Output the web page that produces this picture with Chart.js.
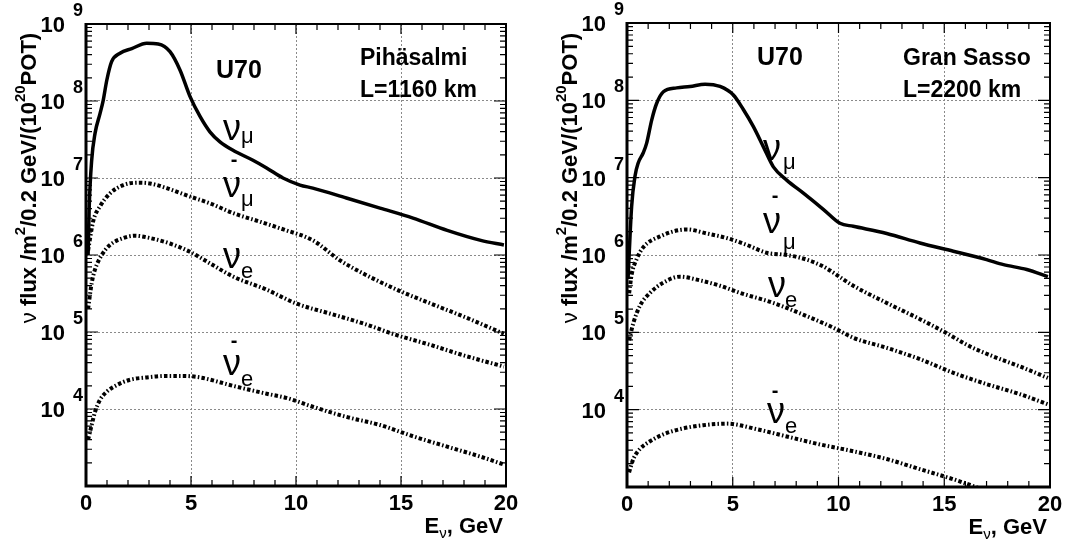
<!DOCTYPE html>
<html><head><meta charset="utf-8">
<script src="https://cdn.jsdelivr.net/npm/chart.js@4.4.1/dist/chart.umd.min.js"></script>
<style>
html,body{margin:0;padding:0;background:#fff;}
#wrap{position:relative;width:1068px;height:541px;overflow:hidden;}
canvas{position:absolute;top:0;}
</style></head><body>
<div id="wrap">
<canvas id="cL" width="534" height="541" style="left:0"></canvas>
<canvas id="cR" width="534" height="541" style="left:534px"></canvas>
</div>
<script>
// ---------- axis ticks ----------
const X_TICKS = [0, 5, 10, 15, 20];
const Y_EXPONENTS = [4, 5, 6, 7, 8, 9];

// ---------- Left panel: Pihäsalmi, L=1160 km ----------
const L_NUMU_E = [0.1,0.15,0.27,0.43,0.67,0.82,0.99,1.22,1.62,2.18,2.89,3.44,4.0,4.48,4.95,5.43,5.9,6.38,7.0,7.95,8.6,9.38,10.19,10.8,12.4,14.0,15.57,17.2,18.8,19.9];
const L_NUMU   = [1.0e6,4.0e6,1.7e7,3.8e7,6.9e7,1.02e8,1.86e8,3.24e8,4.17e8,4.79e8,5.62e8,5.5e8,4.37e8,2.51e8,1.15e8,6.3e7,3.98e7,2.95e7,2.29e7,1.7e7,1.35e7,1.0e7,8.1e6,7.4e6,5.5e6,4.07e6,3.02e6,2.09e6,1.55e6,1.35e6];

const L_ANUMU_E = [0.1,0.35,0.67,1.14,1.78,2.49,3.05,3.84,4.95,5.9,7.0,8.3,9.4,10.8,12.1,13.2,14.95,16.4,17.95,19.9];
const L_ANUMU   = [1.15e6,2.8e6,4.3e6,6.3e6,8.1e6,8.7e6,8.5e6,7.4e6,5.75e6,4.7e6,3.5e6,2.7e6,2.15e6,1.55e6,8.5e5,5.75e5,3.4e5,2.35e5,1.6e5,9.5e4];

const L_NUE_E = [0.1,0.27,0.43,0.75,1.14,1.78,2.33,3.05,4.0,4.95,5.9,7.0,8.6,10.0,11.6,13.2,14.8,16.4,17.95,19.9];
const L_NUE   = [2.0e5,4.3e5,6.5e5,1.0e6,1.35e6,1.66e6,1.78e6,1.66e6,1.41e6,1.1e6,7.8e5,5.25e5,3.55e5,2.35e5,1.74e5,1.29e5,9.1e4,6.8e4,5.0e4,3.55e4];

const L_ANUE_E = [0.1,0.27,0.43,0.67,0.99,1.46,2.1,2.89,3.84,4.63,5.43,7.0,8.6,9.6,10.8,12.4,14.0,15.6,17.2,18.8,19.9];
const L_ANUE   = [4.0e3,6.2e3,9.2e3,1.32e4,1.68e4,2.04e4,2.4e4,2.57e4,2.69e4,2.69e4,2.57e4,2.0e4,1.58e4,1.38e4,1.07e4,7.9e3,6.2e3,4.4e3,3.24e3,2.4e3,1.9e3];

// ---------- Right panel: Gran Sasso, L=2200 km ----------
const R_NUMU_E = [0.05,0.22,0.38,0.53,0.77,0.93,1.17,1.4,1.72,2.35,2.98,3.69,4.4,5.03,5.5,5.97,6.45,6.92,7.55,8.34,9.28,10.07,10.7,12.28,13.85,15.43,17.0,17.8,18.9,19.9];
const R_NUMU   = [5.0e5,4.3e6,1.05e7,1.55e7,2.1e7,2.8e7,5.6e7,9.1e7,1.29e8,1.45e8,1.51e8,1.62e8,1.51e8,1.17e8,7.6e7,4.6e7,2.5e7,1.38e7,9.3e6,6.3e6,3.9e6,2.57e6,2.35e6,1.9e6,1.43e6,1.12e6,8.7e5,7.5e5,6.5e5,5.25e5];

const R_ANUMU_E = [0.1,0.22,0.46,0.77,1.56,2.82,3.77,4.71,5.66,6.6,7.55,8.5,9.28,10.7,12.28,13.85,15.1,16.2,17.3,18.6,19.9];
const R_ANUMU   = [3.2e5,5.6e5,8.9e5,1.26e6,1.74e6,2.14e6,1.9e6,1.66e6,1.35e6,1.07e6,1.0e6,8.7e5,7.1e5,4.0e5,2.4e5,1.48e5,9.8e4,6.6e4,4.9e4,3.6e4,2.57e4];

const R_NUE_E = [0.1,0.3,0.61,1.09,1.72,2.5,3.3,4.4,5.34,6.92,8.5,9.75,10.7,12.28,13.85,15.43,17.0,18.6,19.9];
const R_NUE   = [7.9e4,1.32e5,2.2e5,3.24e5,4.4e5,5.25e5,4.8e5,4.0e5,3.24e5,2.4e5,1.62e5,1.15e5,8.5e4,6.3e4,4.5e4,3.0e4,2.14e4,1.58e4,1.17e4];

const R_ANUE_E = [0.1,0.3,0.61,1.09,1.72,2.5,3.6,4.71,6.13,7.7,9.13,10.7,12.28,13.85,15.43,16.4,18.0,20.0];
const R_ANUE   = [1.55e3,2.3e3,3.1e3,3.9e3,4.8e3,5.6e3,6.3e3,6.6e3,5.6e3,4.4e3,3.55e3,2.9e3,2.3e3,1.7e3,1.26e3,1.02e3,7.1e2,4.5e2];

const FONT = '"Liberation Sans", Arial, Helvetica, sans-serif';

function txt(ctx, s, x, y, font, align) {
  ctx.font = font; ctx.textAlign = align || 'left'; ctx.textBaseline = 'alphabetic';
  ctx.fillText(s, x, y);
}

const decoPlugin = {
  id: 'deco',
  afterDraw(chart) {
    const o = chart.options.plugins.deco; if (!o) return;
    const ctx = chart.ctx, a = chart.chartArea, xs = chart.scales.x, ys = chart.scales.y;
    ctx.save();
    ctx.strokeStyle = '#000'; ctx.fillStyle = '#000';
    // inner tick marks
    ctx.lineWidth = 1.2;
    ctx.beginPath();
    for (let e = 0; e <= 20; e++) {
      const px = xs.getPixelForValue(e), L = e % 5 === 0 ? 10 : 6;
      ctx.moveTo(px, a.bottom); ctx.lineTo(px, a.bottom - L);
      ctx.moveTo(px, a.top); ctx.lineTo(px, a.top + L);
    }
    for (let n = 3; n < 9; n++) for (let k = 1; k < 10; k++) {
      const py = ys.getPixelForValue(k * Math.pow(10, n)), L = k === 1 ? 12 : 6;
      ctx.moveTo(a.left, py); ctx.lineTo(a.left + L, py);
      ctx.moveTo(a.right, py); ctx.lineTo(a.right - L, py);
    }
    ctx.stroke();
    // frame
    ctx.lineWidth = 2;
    ctx.strokeRect(a.left, a.top, a.right - a.left, a.bottom - a.top);
    ctx.lineWidth = 3;
    ctx.beginPath(); ctx.moveTo(a.left, a.top - 1); ctx.lineTo(a.left, a.bottom); ctx.lineTo(a.right + 1, a.bottom); ctx.stroke();
    // x tick labels
    X_TICKS.forEach(t => txt(ctx, String(t), xs.getPixelForValue(t), a.bottom + 24, `bold 22px ${FONT}`, 'center'));
    // y tick labels 10^n
    Y_EXPONENTS.forEach(n => {
      const py = ys.getPixelForValue(Math.pow(10, n));
      txt(ctx, '10', a.left - 21, py + 8, `bold 22px ${FONT}`, 'right');
      txt(ctx, String(n), a.left - 13, py - 8, `bold 18px ${FONT}`, 'left');
    });
    // y title (rotated)
    ctx.save();
    ctx.translate(a.left - 50, o.titleY);
    ctx.rotate(-Math.PI / 2);
    const parts = [
      ['ν ', `22px ${FONT}`, 0], ['flux /m', `bold 22px ${FONT}`, 0], ['2', `bold 15px ${FONT}`, -11],
      ['/0.2 GeV/(10', `bold 22px ${FONT}`, 0], ['20', `bold 15px ${FONT}`, -11], ['POT)', `bold 22px ${FONT}`, 0]
    ];
    let tot = 0;
    parts.forEach(p => { ctx.font = p[1]; tot += ctx.measureText(p[0]).width; });
    let cx = -tot / 2;
    parts.forEach(p => { ctx.font = p[1]; ctx.textAlign = 'left'; ctx.fillText(p[0], cx, p[2]); cx += ctx.measureText(p[0]).width; });
    ctx.restore();
    // x title: E_nu, GeV (right aligned)
    {
      const f1 = `bold 22px ${FONT}`, f2 = `15px ${FONT}`;
      ctx.font = f1; const wE = ctx.measureText('E').width, wG = ctx.measureText(', GeV').width;
      ctx.font = f2; const wn = ctx.measureText('ν').width;
      let x0 = a.right - 3 - (wE + wn + wG), by = a.bottom + 47;
      txt(ctx, 'E', x0, by, f1); txt(ctx, 'ν', x0 + wE, by + 5, f2); txt(ctx, ', GeV', x0 + wE + wn, by, f1);
    }
    // panel texts
    txt(ctx, 'U70', o.u70[0], o.u70[1], `bold 25px ${FONT}`);
    txt(ctx, o.site, o.siteX, o.siteY, `bold 23px ${FONT}`);
    txt(ctx, o.dist, o.siteX, o.siteY + 32, `bold 23px ${FONT}`);
    // particle labels
    o.labels.forEach(l => {
      if (l.bar) txt(ctx, '-', l.bar[0], l.bar[1], `bold 20px ${FONT}`, 'center');
      txt(ctx, 'ν', l.nu[0], l.nu[1], `36px ${FONT}`);
      txt(ctx, l.sub, l.s[0], l.s[1], `22px ${FONT}`);
    });
    ctx.restore();
  }
};

function ds(E, V, solid) {
  return {
    data: E.map((e, i) => ({ x: e, y: V[i] })),
    borderColor: '#000', borderWidth: solid ? 3.5 : 4,
    borderDash: solid ? [] : [3.5, 2.2, 1.5, 2.2], borderCapStyle: 'butt',
    pointRadius: 0, cubicInterpolationMode: 'monotone', fill: false
  };
}

function makeChart(id, pad, sets, deco) {
  return new Chart(document.getElementById(id), {
    type: 'line',
    data: { datasets: sets },
    options: {
      responsive: false, animation: false, devicePixelRatio: 1,
      layout: { padding: pad },
      plugins: { legend: { display: false }, tooltip: { enabled: false }, deco: deco },
      scales: {
        x: {
          type: 'linear', min: 0, max: 20,
          afterFit: s => { s.height = 0; },
          ticks: { display: false, stepSize: 5 },
          grid: { drawTicks: false, lineWidth: 1, color: c => (c.tick && c.tick.value > 0 && c.tick.value < 20) ? '#8a8a8a' : 'rgba(0,0,0,0)' },
          border: { display: false, dash: [2, 2] }
        },
        y: {
          type: 'logarithmic', min: 1e3, max: 1e9,
          afterBuildTicks: s => { s.ticks = [3, 4, 5, 6, 7, 8, 9].map(n => ({ value: Math.pow(10, n) })); },
          afterFit: s => { s.width = 0; },
          ticks: { display: false },
          grid: { drawTicks: false, lineWidth: 1, color: c => (c.tick && c.tick.value > 1e3 && c.tick.value < 1e9) ? '#8a8a8a' : 'rgba(0,0,0,0)' },
          border: { display: false, dash: [2, 2] }
        }
      }
    },
    plugins: [decoPlugin]
  });
}

makeChart('cL', { left: 86, right: 28, top: 24, bottom: 55 },
  [ds(L_NUMU_E, L_NUMU, true), ds(L_ANUMU_E, L_ANUMU, false), ds(L_NUE_E, L_NUE, false), ds(L_ANUE_E, L_ANUE, false)],
  {
    titleY: 178, u70: [216, 78], site: 'Pihäsalmi', dist: 'L=1160 km', siteX: 360, siteY: 65,
    labels: [
      { nu: [223, 140], sub: 'μ', s: [241, 143] },
      { bar: [234, 166], nu: [223, 197], sub: 'μ', s: [241, 206] },
      { nu: [223, 268], sub: 'e', s: [241, 278] },
      { bar: [234, 347], nu: [223, 375], sub: 'e', s: [241, 386] }
    ]
  });

makeChart('cR', { left: 93, right: 18, top: 23, bottom: 54 },
  [ds(R_NUMU_E, R_NUMU, true), ds(R_ANUMU_E, R_ANUMU, false), ds(R_NUE_E, R_NUE, false), ds(R_ANUE_E, R_ANUE, false)],
  {
    titleY: 178, u70: [223, 65], site: 'Gran Sasso', dist: 'L=2200 km', siteX: 369, siteY: 65,
    labels: [
      { nu: [229, 160], sub: 'μ', s: [249, 169] },
      { bar: [241, 202], nu: [229, 233], sub: 'μ', s: [249, 249] },
      { nu: [234, 297], sub: 'e', s: [251, 307] },
      { bar: [241, 397], nu: [233, 423], sub: 'e', s: [251, 433] }
    ]
  });
</script>
</body></html>
